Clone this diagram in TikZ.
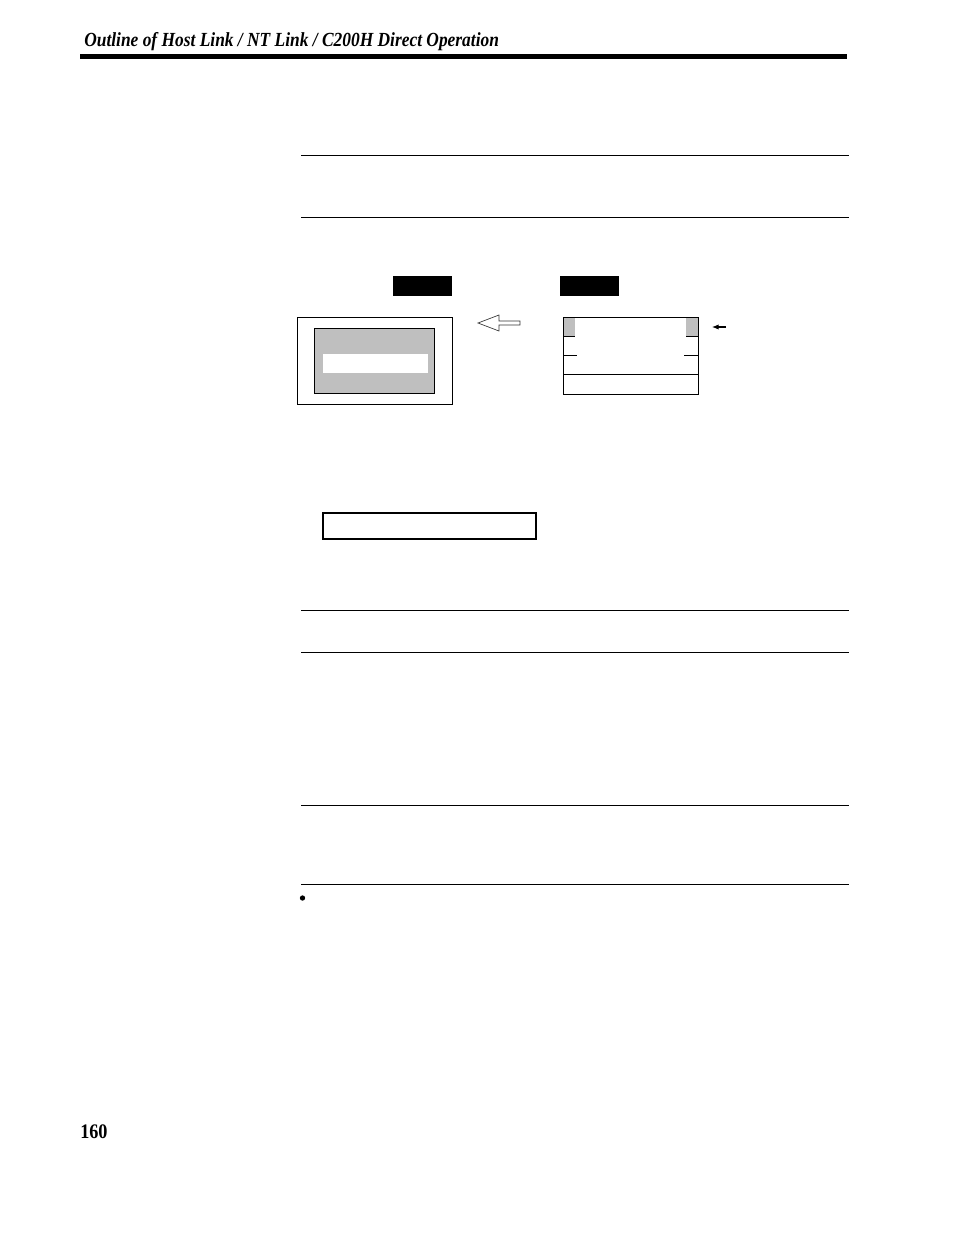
\documentclass[tikz,border=0pt]{standalone}
\usepackage{fontspec}
\setmainfont{Liberation Serif}
\usepackage{graphicx}
\usetikzlibrary{arrows.meta}
\begin{document}
\begin{tikzpicture}[x=0.75pt,y=-0.75pt,
  rule/.style={line width=0.75pt},
  thin box/.style={draw=black,line width=0.75pt},
  graybox/.style={fill=black!25},
]
\useasboundingbox (0,0) rectangle (954,1235);
% header
\node[anchor=base west,inner sep=0pt] (hdr) at (84,46)
  {\resizebox{311pt}{\height}{\fontsize{15}{18}\selectfont\bfseries\itshape Outline of Host Link / NT Link / C200H Direct Operation}};
\fill (80,53.5) rectangle (847,58.5);
% horizontal rules
\foreach \yy in {155,217,610,652,805,884}
  \draw[rule] (301,\yy) -- (849,\yy);
% black labels
\fill (393,276) rectangle (452,296);
\fill (560,276) rectangle (619,296);
% left screen
\draw[thin box] (297,317) rectangle (452,404);
\draw[thin box,graybox] (314,328) rectangle (434,393);
\fill[white] (323,354) rectangle (428,373);
% hollow arrow
\draw[line width=0.5pt,black!80] (520,321) -- (499,321) -- (499,315) -- (478,323) -- (499,331) -- (499,325) -- (520,325) -- cycle;
% right box
\fill[black!25] (563,317) rectangle (575,336);
\fill[black!25] (686,317) rectangle (698,336);
\draw[thin box] (563,317) rectangle (698,394);
\draw[rule] (563,336) -- (575,336);
\draw[rule] (686,336) -- (698,336);
\draw[rule] (563,355) -- (577,355);
\draw[rule] (684,355) -- (698,355);
\draw[rule] (563,374) -- (698,374);
% small arrow
\coordinate (sa1) at (726,327);
\coordinate (sa2) at (712,327);
\draw[line width=0.8pt,-{Latex[length=5pt,width=4pt]}] (sa1) -- (sa2);
% lower box
\draw[line width=0.9pt] (323,513) rectangle (536,539);
% bullet
\fill (302.5,898) circle (2pt);
% page number
\node[anchor=base west,inner sep=0pt] (pg) at (80,1138)
  {\resizebox{20.5pt}{\height}{\fontsize{15.5}{18}\selectfont\bfseries 160}};
\end{tikzpicture}
\end{document}
